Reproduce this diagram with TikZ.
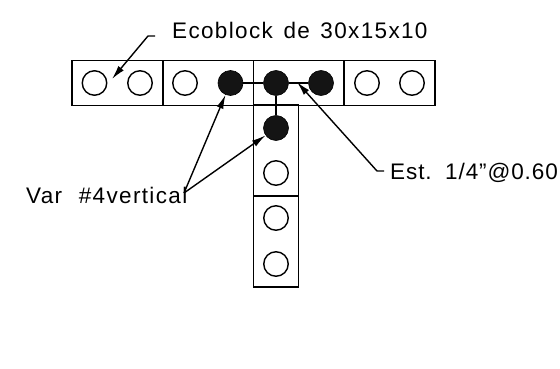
\documentclass[tikz,border=0pt]{standalone}
\usepackage{fontspec}
\setmainfont{Liberation Sans}
\usetikzlibrary{arrows.meta}
\tikzset{
  blockh/.style={draw,line width=1.5pt,minimum width=91pt,minimum height=45pt,inner sep=0pt},
  blockv/.style={draw,line width=1.5pt,minimum width=45pt,minimum height=91pt,inner sep=0pt},
  hole/.style={draw,circle,line width=1.4pt,minimum size=24.5pt,inner sep=0pt},
  bar/.style={draw,circle,fill=black!92,line width=0.6pt,minimum size=25pt,inner sep=0pt},
  label/.style={inner sep=0pt,font=\fontsize{22.5}{22.5}\selectfont\addfontfeature{LetterSpace=6}},
  labeltight/.style={inner sep=0pt,font=\fontsize{22.5}{22.5}\selectfont\addfontfeature{LetterSpace=4}},
  pointer/.style={line width=1.4pt,-{Latex[length=14pt,width=7pt]}}
}
\begin{document}
\begin{tikzpicture}[x=1pt,y=-1pt]
      \useasboundingbox (0,0) rectangle (560,369);
      \draw
        (117.25,83) node[blockh] (b0){}
        (208,83) node[blockh] (b1){}
        (298.75,83) node[blockh] (b2){}
        (389.5,83) node[blockh] (b3){}
        (276,150.5) node[blockv] (b4){}
        (276,241.5) node[blockv] (b5){};
      \draw
        (94.5,83) node[hole] (h0){}
        (140,83) node[hole] (h1){}
        (185,83) node[hole] (h2){}
        (367,83) node[hole] (h3){}
        (412,83) node[hole] (h4){}
        (276,173) node[hole] (h5){}
        (276,218) node[hole] (h6){}
        (276,264) node[hole] (h7){};
      \draw
        (230.5,83) node[bar] (f0){}
        (276,83) node[bar] (f1){}
        (321,83) node[bar] (f2){}
        (276,128) node[bar] (f3){};
      \begin{scope}[-,line width=1.4pt]
        \draw (f0) to (f1);
        \draw (f1) to (f2);
        \draw (f1) to (f3);
      \end{scope}
      \node[label,anchor=base west] (eco) at (172,39) {Ecoblock\hspace{3pt} de\hspace{3pt} 30x15x10};
      \node[label,anchor=base west] (var) at (26,203) {Var\hspace{9pt} \#4vertical};
      \node[labeltight,anchor=base west] (est) at (390,179) {Est.\hspace{4pt} 1/4”@0.60};
      \coordinate (e0) at (155,36);
      \coordinate (e1) at (148,36);
      \coordinate (e2) at (112,79);
      \coordinate (s0) at (384,171);
      \coordinate (s1) at (377,171);
      \coordinate (s2) at (297,82);
      \coordinate (v0) at (184,193);
      \draw[pointer] (e0) -- (e1) -- (e2);
      \draw[pointer] (s0) -- (s1) -- (s2);
      \draw[pointer] (v0) -- (f0);
      \draw[pointer] (v0) -- (f3);
    \end{tikzpicture}
\end{document}
